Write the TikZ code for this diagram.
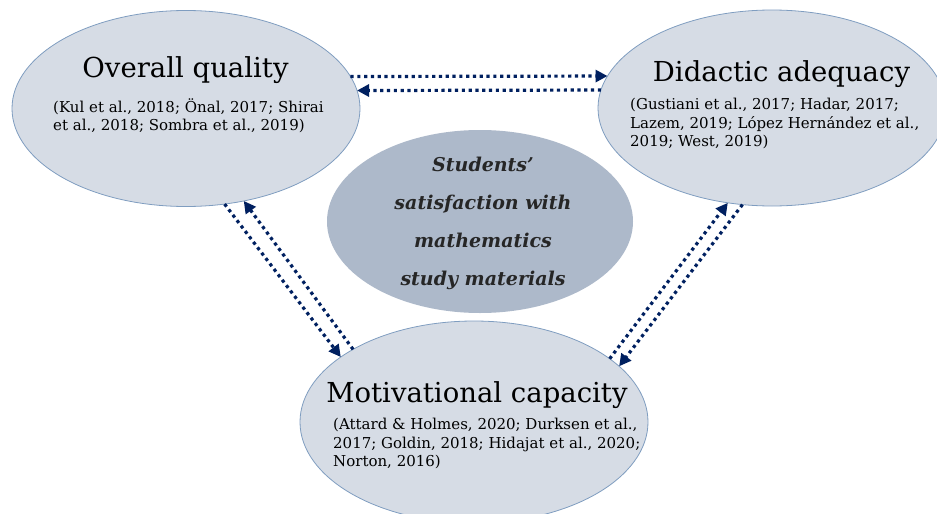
\documentclass[tikz,border=0pt]{standalone}
\usepackage{fontspec}
\setmainfont{DejaVu Serif}
\usetikzlibrary{shapes.geometric,arrows.meta}

\definecolor{boxfill}{HTML}{D6DCE5}
\definecolor{boxline}{HTML}{7F9DC0}
\definecolor{corefill}{HTML}{ADB9CA}
\definecolor{arrowblue}{HTML}{002060}

\begin{document}
\begin{tikzpicture}[
       x=1pt,y=-1pt,
       factor/.style={
         ellipse,
         draw=boxline,
         fill=boxfill,
         line width=0.8pt,
         minimum width=348pt,
         minimum height=196pt,
         inner sep=0pt,
         outer sep=0pt
       },
       core/.style={
         ellipse,
         fill=corefill,
         minimum width=306pt,
         minimum height=183pt,
         inner sep=0pt
       },
       title/.style={
         anchor=base,
         inner sep=0pt,
         font=\fontsize{27.5}{32}\selectfont
       },
       refs/.style={
         anchor=north west,
         align=left,
         inner sep=0pt,
         font=\fontsize{15}{18.5}\selectfont
       },
       dotarrow/.style={
         arrowblue,
         line width=3.2pt,
         dash pattern=on 3.2pt off 3.6pt,
         -{Triangle[length=12pt,width=12pt]}
       }
     ]

       \useasboundingbox (0,0) rectangle (937,514);

       \node (oq) at (186,108.5) [factor]{};
       \node (da) at (772,108) [factor]{};
       \node (mc) at (474,422) [factor,minimum height=202pt]{};
       \node (core) at (480,221.5) [core]{};

       \node (oqtitle) at (185.5,77) [title]{Overall quality};
       \node (oqrefs) at (53,98) [refs]{(Kul et al., 2018; Önal, 2017; Shirai\\et al., 2018; Sombra et al., 2019)};

       \node (datitle) at (781.5,81) [title]{Didactic adequacy};
       \node (darefs) at (630,98) [refs]{(Gustiani et al., 2017; Hadar, 2017;\\Lazem, 2019; López Hernández et al.,\\2019; West, 2019)};

       \node (mctitle) at (477,402) [title]{Motivational capacity};
       \node (mcrefs) at (333,418) [refs]{(Attard \& Holmes, 2020; Durksen et al.,\\2017; Goldin, 2018; Hidajat et al., 2020;\\Norton, 2016)};

       \node (coretext) at (483,157) [anchor=north,align=center,inner sep=0pt,text=black!85,
         font=\fontsize{19}{38}\selectfont\bfseries\itshape]{Students’\\satisfaction with\\mathematics\\study materials};

       \draw[dotarrow] (oq.11.4) -- (da.169);
       \draw[dotarrow] (da.174.1) -- (oq.6.1);

       \draw[dotarrow] (oq.-68) -- (mc.154.6);
       \draw[dotarrow] (mc.149.2) -- (oq.-58.5);

       \draw[dotarrow] (mc.25.9) -- (da.-115.3);
       \draw[dotarrow] (da.-107.2) -- (mc.21.3);

\end{tikzpicture}
\end{document}
